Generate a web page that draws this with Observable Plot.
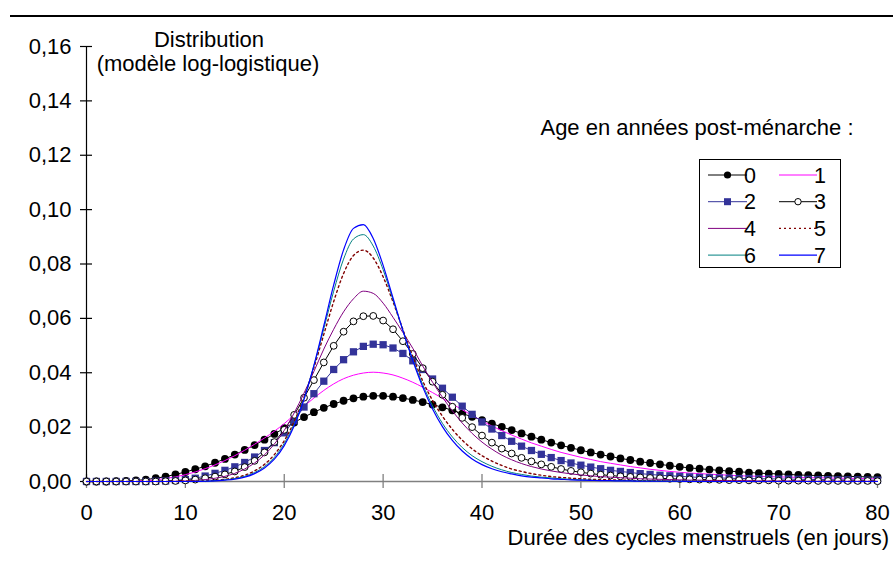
<!DOCTYPE html>
<html><head><meta charset="utf-8">
<script src="https://cdn.jsdelivr.net/npm/d3@7"></script>
<script src="https://cdn.jsdelivr.net/npm/@observablehq/plot@0.6"></script>
<style>
html,body{margin:0;padding:0;background:#fff;}
#chart{width:893px;height:563px;overflow:hidden;}
</style></head><body><div id="chart"></div>
<script>
// ---- data ----
const days = [0,1,2,3,4,5,6,7,8,9,10,11,12,13,14,15,16,17,18,19,20,21,22,23,24,25,26,27,28,29,30,31,32,33,34,35,36,37,38,39,40,41,42,43,44,45,46,47,48,49,50,51,52,53,54,55,56,57,58,59,60,61,62,63,64,65,66,67,68,69,70,71,72,73,74,75,76,77,78,79,80];

const age0 = [0,0,0,0.0001,0.0002,0.0004,0.0007,0.0012,0.0018,0.0026,
 0.0035,0.0045,0.0056,0.0069,0.0083,0.0099,0.0116,0.0134,0.0154,0.0175,
 0.0196,0.0217,0.0237,0.0255,0.0271,0.0285,0.0297,0.0306,0.0312,0.0315,
 0.0315,0.0312,0.0307,0.0300,0.0292,0.0283,0.0273,0.0262,0.0250,0.0238,
 0.0226,0.0213,0.0201,0.0189,0.0177,0.0165,0.0154,0.0143,0.0133,0.0124,
 0.0115,0.0107,0.0099,0.0092,0.0085,0.0079,0.0073,0.0068,0.0063,0.0058,
 0.0054,0.0050,0.0047,0.0044,0.0041,0.0038,0.0036,0.0033,0.0031,0.0029,
 0.0028,0.0026,0.0024,0.0023,0.0022,0.0021,0.0020,0.0019,0.0018,0.0017,
 0.0016];

const age1 = [0,0,0,0,0,0.0001,0.0003,0.0006,0.0011,0.0017,
 0.0025,0.0035,0.0047,0.0061,0.0077,0.0095,0.0115,0.0137,0.0160,0.0185,
 0.0213,0.0245,0.0277,0.0307,0.0335,0.0359,0.0378,0.0391,0.0399,0.0402,
 0.0399,0.0392,0.0380,0.0365,0.0347,0.0327,0.0306,0.0285,0.0264,0.0243,
 0.0223,0.0204,0.0187,0.0171,0.0156,0.0142,0.0130,0.0118,0.0107,0.0098,
 0.0089,0.0081,0.0073,0.0067,0.0061,0.0055,0.0050,0.0045,0.0041,0.0037,
 0.0034,0.0031,0.0029,0.0027,0.0025,0.0023,0.0021,0.0020,0.0019,0.0018,
 0.0017,0.0016,0.0015,0.0014,0.0014,0.0013,0.0012,0.0012,0.0011,0.0011,
 0.0010];

const age2 = [0,0,0,0,0,0,0,0.0001,0.0002,0.0004,
 0.0007,0.0012,0.0020,0.0030,0.0041,0.0054,0.0070,0.0090,0.0114,0.0143,
 0.0179,0.0224,0.0274,0.0323,0.0369,0.0412,0.0448,0.0477,0.0497,0.0505,
 0.0503,0.0491,0.0471,0.0444,0.0412,0.0377,0.0343,0.0310,0.0277,0.0247,
 0.0219,0.0193,0.0169,0.0148,0.0130,0.0114,0.0100,0.0088,0.0077,0.0068,
 0.0060,0.0053,0.0047,0.0041,0.0037,0.0033,0.0029,0.0026,0.0023,0.0021,
 0.0019,0.0017,0.0015,0.0014,0.0013,0.0012,0.0011,0.0011,0.0010,0.0010,
 0.0009,0.0009,0.0008,0.0008,0.0007,0.0007,0.0006,0.0006,0.0006,0.0005,
 0.0005];

const age3 = [0,0,0,0,0,0,0,0,0.0001,0.0002,
 0.0004,0.0007,0.0012,0.0018,0.0026,0.0037,0.0053,0.0076,0.0107,0.0145,
 0.0190,0.0245,0.0308,0.0373,0.0438,0.0499,0.0551,0.0589,0.0608,0.0609,
 0.0592,0.0560,0.0516,0.0469,0.0417,0.0367,0.0319,0.0275,0.0234,0.0200,
 0.0169,0.0143,0.0121,0.0103,0.0087,0.0074,0.0063,0.0054,0.0046,0.0039,
 0.0034,0.0029,0.0025,0.0022,0.0019,0.0017,0.0015,0.0013,0.0012,0.0010,
 0.0009,0.0008,0.0007,0.0007,0.0006,0.0005,0.0005,0.0004,0.0004,0.0004,
 0.0003,0.0003,0.0003,0.0003,0.0002,0.0002,0.0002,0.0002,0.0002,0.0002,
 0.0001];

const age4 = [0,0,0,0,0,0,0,0,0,0.0001,
 0.0002,0.0004,0.0007,0.0012,0.0019,0.0030,0.0046,0.0068,0.0098,0.0138,
 0.0188,0.0252,0.0325,0.0405,0.0487,0.0560,0.0624,0.0672,0.0700,0.0692,
 0.0656,0.0604,0.0548,0.0490,0.0425,0.0365,0.0310,0.0260,0.0215,0.0177,
 0.0145,0.0119,0.0097,0.0080,0.0066,0.0055,0.0046,0.0039,0.0033,0.0028,
 0.0024,0.0021,0.0018,0.0016,0.0014,0.0012,0.0010,0.0009,0.0008,0.0007,
 0.0006,0.0005,0.0005,0.0004,0.0004,0.0003,0.0003,0.0003,0.0002,0.0002,
 0.0002,0.0002,0.0002,0.0001,0.0001,0.0001,0.0001,0.0001,0.0001,0.0001,
 0.0001];

const age5 = [0,0,0,0,0,0,0,0,0,0,
 0.0001,0.0001,0.0002,0.0004,0.0008,0.0014,0.0023,0.0039,0.0063,0.0099,
 0.0150,0.0220,0.0310,0.0419,0.0541,0.0662,0.0765,0.0831,0.0851,0.0822,
 0.0753,0.0661,0.0559,0.0460,0.0370,0.0298,0.0240,0.0192,0.0152,0.0120,
 0.0095,0.0075,0.0059,0.0046,0.0037,0.0029,0.0023,0.0018,0.0015,0.0012,
 0.0010,0.0008,0.0007,0.0006,0.0005,0.0004,0.0003,0.0003,0.0002,0.0002,
 0.0002,0.0001,0.0001,0.0001,0.0001,0.0001,0.0001,0,0,0,
 0,0,0,0,0,0,0,0,0,0,
 0];

const age6 = [0,0,0,0,0,0,0,0,0,0,
 0,0.0001,0.0001,0.0003,0.0006,0.0011,0.0019,0.0033,0.0055,0.0089,
 0.0140,0.0211,0.0306,0.0426,0.0562,0.0700,0.0818,0.0892,0.0908,0.0866,
 0.0779,0.0668,0.0556,0.0450,0.0357,0.0278,0.0214,0.0164,0.0125,0.0095,
 0.0073,0.0056,0.0043,0.0033,0.0026,0.0020,0.0016,0.0013,0.0010,0.0008,
 0.0006,0.0005,0.0004,0.0003,0.0003,0.0002,0.0002,0.0002,0.0001,0.0001,
 0.0001,0.0001,0.0001,0,0,0,0,0,0,0,
 0,0,0,0,0,0,0,0,0,0,
 0];

const age7 = [0,0,0,0,0,0,0,0,0,0,
 0,0,0.0001,0.0002,0.0005,0.0009,0.0016,0.0029,0.0050,0.0082,
 0.0132,0.0204,0.0302,0.0427,0.0573,0.0723,0.0852,0.0931,0.0945,0.0894,
 0.0795,0.0675,0.0555,0.0445,0.0348,0.0267,0.0202,0.0151,0.0112,0.0083,
 0.0062,0.0047,0.0036,0.0028,0.0021,0.0016,0.0013,0.0010,0.0008,0.0006,
 0.0005,0.0004,0.0003,0.0003,0.0002,0.0002,0.0001,0.0001,0.0001,0.0001,
 0.0001,0,0,0,0,0,0,0,0,0,
 0,0,0,0,0,0,0,0,0,0,
 0];

const seriesNames = ["0","1","2","3","4","5","6","7"];
const xTicks = [0,10,20,30,40,50,60,70,80];
const yTicks = [0,0.02,0.04,0.06,0.08,0.10,0.12,0.14,0.16];
const yTickLabels = ["0,00","0,02","0,04","0,06","0,08","0,10","0,12","0,14","0,16"];
const titleLines = ["Distribution","(modèle log-logistique)"];
const legendTitle = "Age en années post-ménarche :";
const xAxisTitle = "Durée des cycles menstruels (en jours)";

// ---- build table ----
const allSeries = [age0, age1, age2, age3, age4, age5, age6, age7];
const rows = allSeries.flatMap((vals, k) => vals.map((v, i) => ({x: days[i], y: v, s: seriesNames[k]})));
const sel = k => rows.filter(r => r.s === seriesNames[k]);

const styles = [
  {stroke: "#000000", width: 1, dash: null, marker: "filled", curve: "linear"},
  {stroke: "#FF00FF", width: 1, dash: null, marker: null, curve: "monotone-x"},
  {stroke: "#333399", width: 1, dash: null, marker: "square", curve: "linear"},
  {stroke: "#000000", width: 1, dash: null, marker: "open", curve: "linear"},
  {stroke: "#800080", width: 1, dash: null, marker: null, curve: "monotone-x"},
  {stroke: "#800000", width: 1.4, dash: "2,3", marker: null, curve: "monotone-x"},
  {stroke: "#008080", width: 1, dash: null, marker: null, curve: "monotone-x"},
  {stroke: "#0000FF", width: 1.2, dash: null, marker: null, curve: "monotone-x"}
];

const FONT = "'Liberation Sans', Arial, sans-serif";
const FS = "22px";

const seriesMarks = styles.flatMap((st, k) => {
  const d = sel(k);
  const m = [Plot.line(d, {x: "x", y: "y", stroke: st.stroke, strokeWidth: st.width, strokeDasharray: st.dash, curve: st.curve})];
  if (st.marker === "filled") m.push(Plot.dot(d, {x: "x", y: "y", r: 3.9, fill: "#000", stroke: "none"}));
  if (st.marker === "square") m.push(Plot.dot(d, {x: "x", y: "y", r: 4.1, symbol: "square", fill: "#333399", stroke: "none"}));
  if (st.marker === "open") m.push(Plot.dot(d, {x: "x", y: "y", r: 3.4, fill: "#fff", stroke: "#000", strokeWidth: 1}));
  return m;
});

const plot = Plot.plot({
  width: 893, height: 563,
  marginLeft: 86, marginRight: 16, marginTop: 46, marginBottom: 82,
  style: {fontFamily: FONT, fontSize: FS, color: "#000", background: "#fff", overflow: "visible"},
  x: {domain: [0, 80], label: null},
  y: {domain: [0, 0.16], label: null},
  marks: [
    Plot.ruleY([0], {stroke: "#808080", strokeWidth: 1.5}),
    Plot.ruleX(xTicks, {y1: 0, y2: 0, insetTop: -7, insetBottom: -7, stroke: "#808080", strokeWidth: 1.3}),
    Plot.ruleX([0], {y1: 0, y2: 0.16, stroke: "#000", strokeWidth: 1.2}),
    Plot.ruleY(yTicks, {x1: 0, x2: 0, insetLeft: -6, insetRight: -6, stroke: "#000", strokeWidth: 1.2}),
    Plot.axisX({ticks: xTicks, tickSize: 0, tickPadding: 23, label: null, tickFormat: d => String(d)}),
    Plot.axisY({ticks: yTicks, tickSize: 0, tickPadding: 15, label: null, tickFormat: d => yTickLabels[yTicks.indexOf(d)]}),
    ...seriesMarks
  ]
});

document.getElementById("chart").appendChild(plot);

// ---- annotations & legend ----
const svg = d3.select(plot);
svg.append("line").attr("x1", 10).attr("x2", 893).attr("y1", 16).attr("y2", 16)
  .attr("stroke", "#000").attr("stroke-width", 2.2);

const txt = (x, y, s, anchor, size) => svg.append("text").attr("x", x).attr("y", y)
  .attr("text-anchor", anchor).attr("font-family", FONT).attr("font-size", size).attr("fill", "#000").text(s);

txt(209, 47, titleLines[0], "middle", FS);
txt(208, 71, titleLines[1], "middle", FS);
txt(697, 135, legendTitle, "middle", FS);
txt(889, 545, xAxisTitle, "end", FS);

const lg = svg.append("g");
lg.append("rect").attr("x", 699.5).attr("y", 159.5).attr("width", 141).attr("height", 108)
  .attr("fill", "#fff").attr("stroke", "#000").attr("stroke-width", 1);
styles.forEach((st, k) => {
  const col = k % 2, row = Math.floor(k / 2);
  const x1 = col ? 779 : 708, x2 = col ? 817 : 747, y = 175 + row * 26.7;
  lg.append("line").attr("x1", x1).attr("x2", x2).attr("y1", y).attr("y2", y)
    .attr("stroke", st.stroke).attr("stroke-width", st.width).attr("stroke-dasharray", st.dash);
  const cx = (x1 + x2) / 2;
  if (st.marker === "filled") lg.append("circle").attr("cx", cx).attr("cy", y).attr("r", 3.6).attr("fill", "#000");
  if (st.marker === "square") lg.append("rect").attr("x", cx - 3.5).attr("y", y - 3.5).attr("width", 7).attr("height", 7).attr("fill", "#333399");
  if (st.marker === "open") lg.append("circle").attr("cx", cx).attr("cy", y).attr("r", 3.2).attr("fill", "#fff").attr("stroke", "#000");
  lg.append("text").attr("x", col ? 820 : 750).attr("y", y).attr("dy", "0.36em")
    .attr("font-family", FONT).attr("font-size", "21.5px").attr("fill", "#000").text(seriesNames[k]);
});
</script></body></html>
